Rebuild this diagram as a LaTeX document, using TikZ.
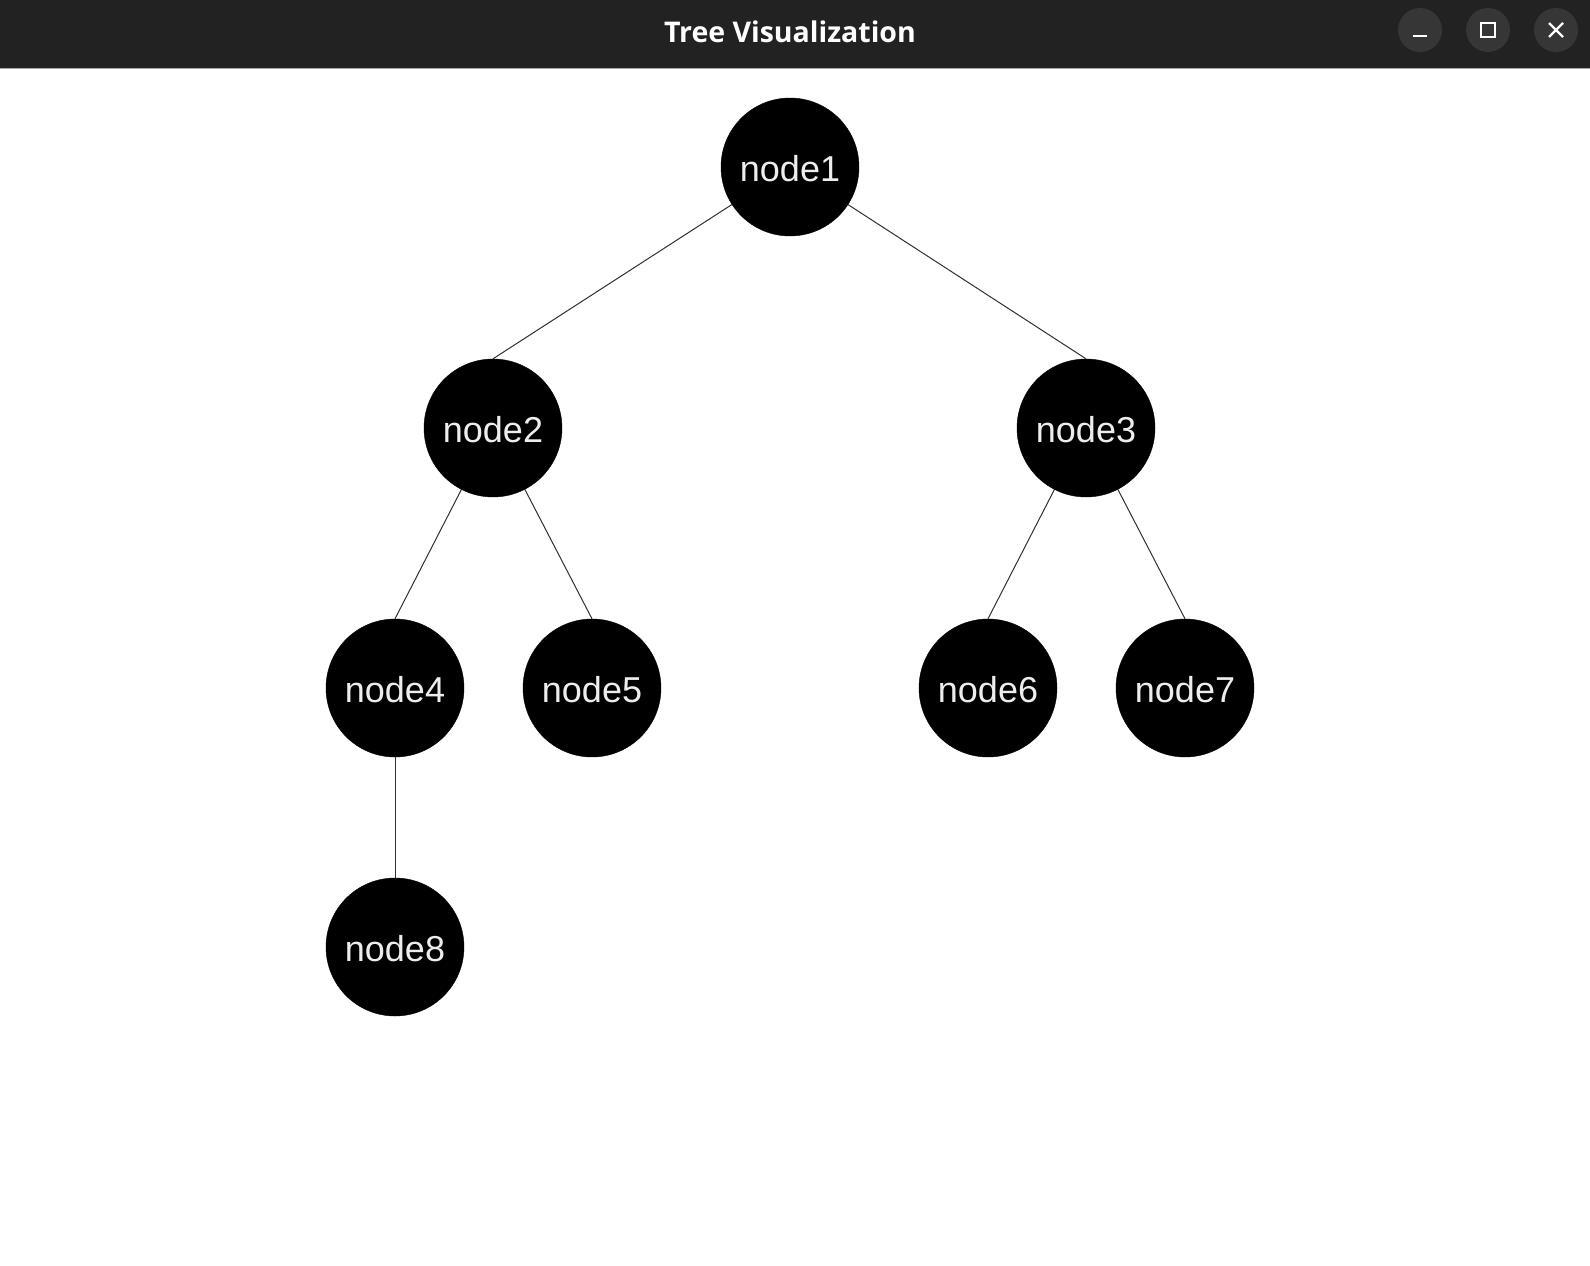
\documentclass[tikz,border=0pt]{standalone}
\usepackage{fontspec}
\setmainfont{Liberation Sans}
\newfontfamily\titlefont{Open Sans}
\usetikzlibrary{backgrounds}
\definecolor{barbg}{HTML}{222222}
\definecolor{btnbg}{HTML}{363636}
\definecolor{barline}{HTML}{A8A8A8}
\definecolor{nodetext}{HTML}{EDEDED}
\definecolor{edgecol}{HTML}{303030}
\tikzset{
  treenode/.style={circle, fill=black, draw=black, minimum size=138pt, inner sep=0pt,
    text=nodetext, font=\fontsize{36}{40}\selectfont},
  nodelabel/.style={text=nodetext, font=\fontsize{36}{40}\selectfont, inner sep=0pt},
  edge/.style={draw=edgecol, line width=1pt},
  winbtn/.style={circle, fill=btnbg, minimum size=44pt, inner sep=0pt},
  btnicon/.style={draw=white, line width=2.2pt}
}
\begin{document}
\begin{tikzpicture}[x=1pt,y=-1pt]
\useasboundingbox (0,0) rectangle (1590,1266);
% title bar
\fill[barbg] (0,0) rectangle (1590,68);
\draw[barline, line width=1pt] (0,68.5) -- (1590,68.5);
\node[text=white, font=\titlefont\bfseries\fontsize{28.5}{32}\selectfont] (title) at (790,32) {Tree Visualization};
\node[winbtn] (bmin) at (1420,30) {};
\node[winbtn] (bmax) at (1488,30) {};
\node[winbtn] (bclose) at (1556,30) {};
\draw[btnicon] ([xshift=-7pt,yshift=-6pt]bmin.center) -- ([xshift=7pt,yshift=-6pt]bmin.center);
\draw[draw=white, line width=2pt] ([xshift=-7pt,yshift=-7pt]bmax.center) rectangle ([xshift=7pt,yshift=7pt]bmax.center);
\draw[btnicon] ([xshift=-7pt,yshift=-7pt]bclose.center) -- ([xshift=7pt,yshift=7pt]bclose.center);
\draw[btnicon] ([xshift=-7pt,yshift=7pt]bclose.center) -- ([xshift=7pt,yshift=-7pt]bclose.center);
% nodes
\node[treenode] (n1) at (790,167) {};
\node[treenode] (n2) at (493,428) {};
\node[treenode] (n3) at (1086,428) {};
\node[treenode] (n4) at (395,688) {};
\node[treenode] (n5) at (592,688) {};
\node[treenode] (n6) at (988,688) {};
\node[treenode] (n7) at (1185,688) {};
\node[treenode] (n8) at (395,947) {};
\node[nodelabel] (l1) at ([yshift=-2pt]n1.center) {node1};
\node[nodelabel] (l2) at ([yshift=-2pt]n2.center) {node2};
\node[nodelabel] (l3) at ([yshift=-2pt]n3.center) {node3};
\node[nodelabel] (l4) at ([yshift=-2pt]n4.center) {node4};
\node[nodelabel] (l5) at ([yshift=-2pt]n5.center) {node5};
\node[nodelabel] (l6) at ([yshift=-2pt]n6.center) {node6};
\node[nodelabel] (l7) at ([yshift=-2pt]n7.center) {node7};
\node[nodelabel] (l8) at ([yshift=-2pt]n8.center) {node8};
\begin{scope}[on background layer]
\fill[white] (0,69) rectangle (1590,1266);
\draw[edge] (n1.center) -- (n2.north);
\draw[edge] (n1.center) -- (n3.north);
\draw[edge] (n2.center) -- (n4.north);
\draw[edge] (n2.center) -- (n5.north);
\draw[edge] (n3.center) -- (n6.north);
\draw[edge] (n3.center) -- (n7.north);
\draw[edge] (n4.center) -- (n8.north);
\end{scope}
\end{tikzpicture}
\end{document}
